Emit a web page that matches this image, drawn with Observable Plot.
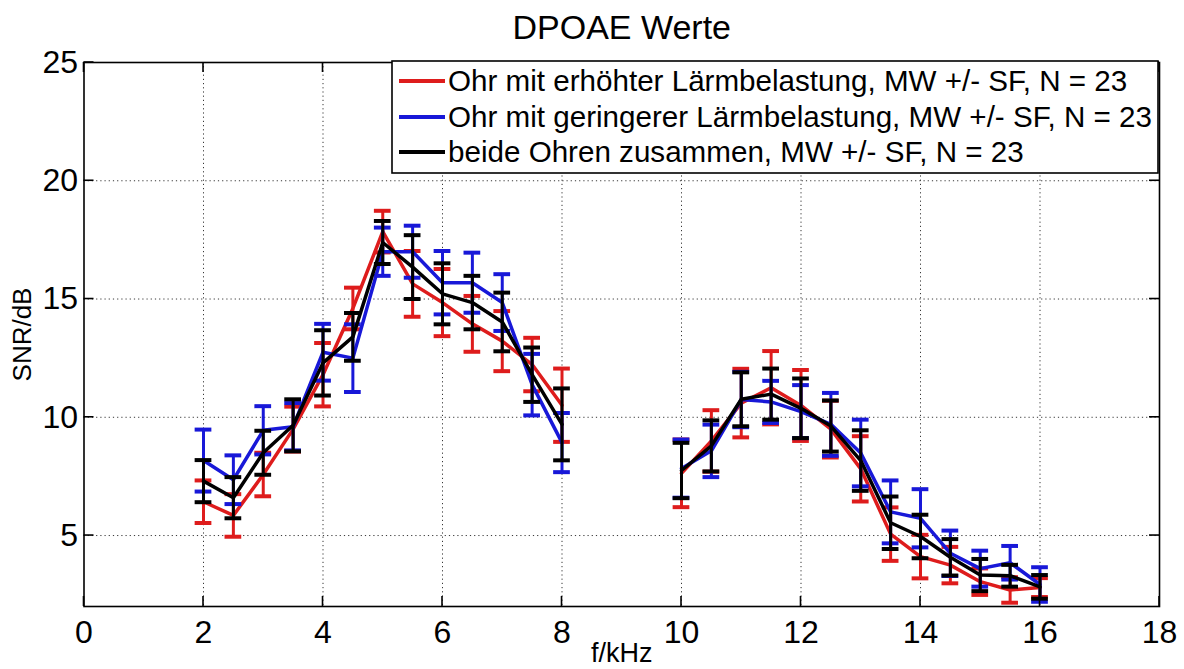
<!DOCTYPE html>
<html>
<head>
<meta charset="utf-8">
<script src="https://cdn.jsdelivr.net/npm/d3@7"></script>
<script src="https://cdn.jsdelivr.net/npm/@observablehq/plot@0.6"></script>
<style>
  html, body { margin: 0; padding: 0; background: #fff; }
  svg { display: block; }
</style>
</head>
<body>
<div id="chart"></div>
<script>
// ---- data ----
const freq = [2, 2.5, 3, 3.5, 4, 4.5, 5, 5.5, 6, 6.5, 7, 7.5, 8,
              10, 10.5, 11, 11.5, 12, 12.5, 13, 13.5, 14, 14.5, 15, 15.5, 16];

const redMean = [6.43, 5.85, 7.58, 9.5, 11.8, 14.6, 17.85, 15.64, 14.85, 13.95, 13.22, 12.23, 10.51,
                 7.63, 9.0, 10.6, 11.25, 10.5, 9.5, 7.82, 5.06, 4.11, 3.75, 3.05, 2.7, 2.8];
const redSE   = [0.9, 0.9, 0.92, 0.95, 1.34, 0.88, 0.88, 1.39, 1.42, 1.18, 1.27, 1.13, 1.55,
                 1.43, 1.3, 1.45, 1.55, 1.5, 1.2, 1.38, 1.13, 0.92, 0.77, 0.56, 0.54, 0.4];

const blueMean = [8.17, 7.36, 9.45, 9.6, 12.75, 12.5, 17.0, 17.0, 15.69, 15.69, 14.85, 11.38, 8.93,
                  7.83, 8.58, 10.75, 10.65, 10.24, 9.7, 8.49, 6.0, 5.73, 4.25, 3.6, 3.85, 2.93];
const blueSE   = [1.31, 1.03, 1.02, 1.0, 1.2, 1.43, 1.02, 1.1, 1.34, 1.27, 1.2, 1.3, 1.25,
                  1.23, 1.11, 1.17, 0.89, 1.12, 1.33, 1.41, 1.33, 1.23, 0.96, 0.76, 0.71, 0.73];

const blackMean = [7.3, 6.6, 8.5, 9.66, 12.3, 13.4, 17.39, 16.35, 15.22, 14.85, 14.03, 11.8, 9.7,
                   7.75, 8.79, 10.76, 10.98, 10.38, 9.63, 8.17, 5.54, 4.96, 4.08, 3.33, 3.3, 2.83];
const blackSE   = [0.89, 0.87, 0.93, 1.1, 1.38, 1.01, 0.91, 1.35, 1.29, 1.13, 1.24, 1.15, 1.52,
                   1.17, 1.08, 1.14, 1.08, 1.26, 1.08, 1.28, 1.11, 0.92, 0.77, 0.68, 0.46, 0.5];

const seriesNames = [
  "Ohr mit erhöhter Lärmbelastung, MW +/- SF, N = 23",
  "Ohr mit geringerer Lärmbelastung, MW +/- SF, N = 23",
  "beide Ohren zusammen, MW +/- SF, N = 23"
];
const seriesColors = ["#de1c1c", "#1818d8", "#000000"];

const xTicks = [0, 2, 4, 6, 8, 10, 12, 14, 16, 18];
const yTicks = [5, 10, 15, 20, 25];

const titleText = "DPOAE Werte";
const xLabel = "f/kHz";
const yLabel = "SNR/dB";

// ---- build tables ----
const means = [redMean, blueMean, blackMean];
const ses = [redSE, blueSE, blackSE];
const series = seriesNames.map((name, k) => ({
  name, color: seriesColors[k],
  rows: freq.map((f, i) => ({f, m: means[k][i], se: ses[k][i], band: f < 9 ? "low" : "high"}))
}));

const capHalf = 0.14;
const font = "'Liberation Sans', Arial, Helvetica, sans-serif";

const seriesMarks = series.flatMap(s => [
  Plot.line(s.rows, {x: "f", y: "m", z: "band", stroke: s.color, strokeWidth: 3.5, strokeLinejoin: "round"}),
  Plot.ruleX(s.rows, {x: "f", y1: d => d.m - d.se, y2: d => d.m + d.se, stroke: s.color, strokeWidth: 3}),
  Plot.ruleY(s.rows, {y: d => d.m - d.se, x1: d => d.f - capHalf, x2: d => d.f + capHalf, stroke: s.color, strokeWidth: 4}),
  Plot.ruleY(s.rows, {y: d => d.m + d.se, x1: d => d.f - capHalf, x2: d => d.f + capHalf, stroke: s.color, strokeWidth: 4})
]);

const mTop = 62, mBottom = 63, mLeft = 83.5, mRight = 25, W = 1184, H = 669;

const chart = Plot.plot({
  width: W,
  height: H,
  marginLeft: mLeft,
  marginRight: mRight,
  marginTop: mTop,
  marginBottom: mBottom,
  style: {fontFamily: font, background: "#fff", color: "#000"},
  x: {domain: [0, 18]},
  y: {domain: [2, 25]},
  marks: [
    Plot.gridX(xTicks.slice(1, -1), {stroke: "#222", strokeOpacity: 0.9, strokeDasharray: "1.2,3"}),
    Plot.gridY(yTicks.slice(0, -1), {stroke: "#222", strokeOpacity: 0.9, strokeDasharray: "1.2,3"}),
    ...seriesMarks,
    Plot.frame({stroke: "#000", strokeWidth: 1.6}),
    Plot.axisX(xTicks, {anchor: "bottom", tickSize: 0, tickPadding: 14, fontSize: 32, label: null, tickFormat: d => String(d)}),
    Plot.axisY(yTicks, {anchor: "left", tickSize: 0, tickPadding: 6, fontSize: 32, label: null, tickFormat: d => String(d)}),
    Plot.text([titleText], {frameAnchor: "top", lineAnchor: "middle", dy: -34, fontSize: 34, fill: "#000"}),
    Plot.text([xLabel], {frameAnchor: "bottom", lineAnchor: "middle", dy: 47, fontSize: 27, fill: "#000"}),
    Plot.text([yLabel], {frameAnchor: "left", lineAnchor: "middle", textAnchor: "middle", dx: -61, rotate: -90, fontSize: 26, fill: "#000"})
  ]
});

document.getElementById("chart").appendChild(chart);

const svg = d3.select(chart);
const sx = chart.scale("x"), sy = chart.scale("y");

// ---- inward tick marks on all four sides (positions from Plot's scales) ----
const tg = svg.append("g").attr("stroke", "#000").attr("stroke-width", 1.6);
const tl = 10;
xTicks.forEach(v => {
  const px = sx.apply(v);
  tg.append("line").attr("x1", px).attr("x2", px).attr("y1", H - mBottom).attr("y2", H - mBottom - tl);
  tg.append("line").attr("x1", px).attr("x2", px).attr("y1", mTop).attr("y2", mTop + tl);
});
yTicks.forEach(v => {
  const py = sy.apply(v);
  tg.append("line").attr("x1", mLeft).attr("x2", mLeft + tl).attr("y1", py).attr("y2", py);
  tg.append("line").attr("x1", W - mRight).attr("x2", W - mRight - tl).attr("y1", py).attr("y2", py);
});

// ---- legend (inside the plot, top right) ----
const lg = svg.append("g").attr("font-family", font).attr("font-size", 29.6).attr("text-anchor", "start");
const box = {x: 392, y: 61, w: 766, h: 112};
lg.append("rect").attr("x", box.x).attr("y", box.y).attr("width", box.w).attr("height", box.h)
  .attr("fill", "#fff").attr("stroke", "#000").attr("stroke-width", 1.6);
const rowY = [81, 117, 152];
series.forEach((s, i) => {
  lg.append("line").attr("x1", box.x + 7).attr("x2", box.x + 53).attr("y1", rowY[i]).attr("y2", rowY[i])
    .attr("stroke", s.color).attr("stroke-width", 4);
  lg.append("text").attr("x", box.x + 56).attr("y", rowY[i] + 10).attr("fill", "#000")
    .attr("text-anchor", "start").text(s.name);
});
</script>
</body>
</html>
